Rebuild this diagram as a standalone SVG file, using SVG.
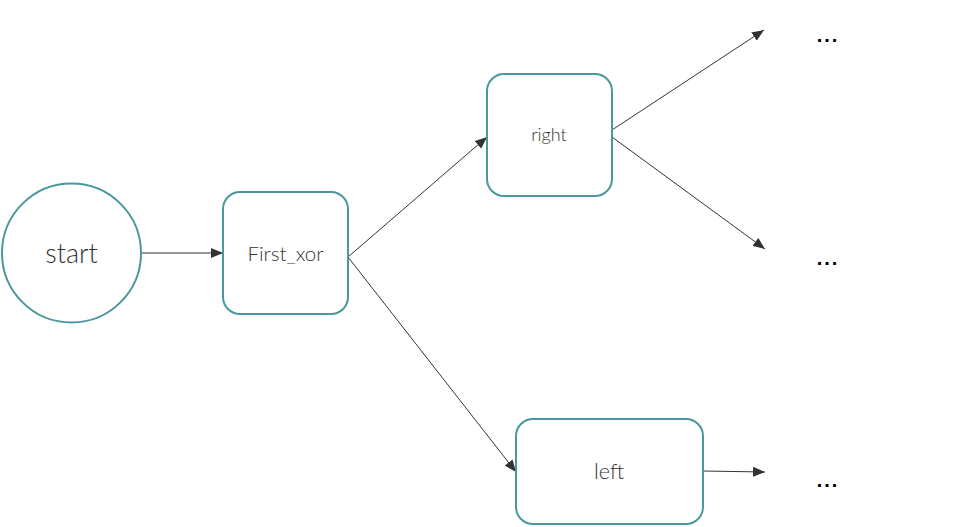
<svg xmlns="http://www.w3.org/2000/svg" width="966" height="527" viewBox="0 0 966 527">
<style>
.node{fill:#fff;stroke:#4a989c;stroke-width:2}
.lbl{font-family:Lato,"Open Sans","Liberation Sans",sans-serif;font-weight:300;fill:#333;text-anchor:middle}
.edge{stroke:#333;stroke-width:1;fill:none;marker-end:url(#ah)}
.dots{font-family:"Liberation Sans",Arial,sans-serif;font-weight:bold;font-size:20px;letter-spacing:2px;fill:#000;text-anchor:middle}
</style>
<defs>
<marker id="ah" viewBox="0 0 12 10" refX="12" refY="5" markerWidth="12" markerHeight="10" markerUnits="userSpaceOnUse" orient="auto">
<path d="M0,0 L12,5 L0,10 Z" fill="#333"/>
</marker>
</defs>
<rect width="966" height="527" fill="#fff"/>
<g id="connectors">
<line class="edge" x1="141" y1="253" x2="223" y2="253"/>
<line class="edge" x1="348" y1="257" x2="487" y2="137"/>
<line class="edge" x1="348" y1="257" x2="516" y2="472"/>
<line class="edge" x1="612" y1="130" x2="764" y2="30"/>
<line class="edge" x1="612" y1="137" x2="765" y2="249"/>
<line class="edge" x1="703" y1="471" x2="765" y2="472"/>
</g>
<g id="start">
<circle class="node" cx="71.5" cy="253" r="69.5"/>
<text class="lbl" x="71.5" y="263" font-size="27">start</text>
</g>
<g id="First_xor">
<rect class="node" x="223" y="192" width="125" height="122" rx="17"/>
<text class="lbl" x="285.5" y="261" font-size="20.5">First_xor</text>
</g>
<g id="right">
<rect class="node" x="487" y="74" width="125" height="122" rx="17"/>
<text class="lbl" x="549" y="141" font-size="18">right</text>
</g>
<g id="left">
<rect class="node" x="516" y="419" width="187" height="105" rx="17"/>
<text class="lbl" x="609" y="479" font-size="21.5">left</text>
</g>
<g id="dots">
<text class="dots" x="828" y="42">...</text>
<text class="dots" x="828" y="265">...</text>
<text class="dots" x="828" y="487">...</text>
</g>
</svg>
